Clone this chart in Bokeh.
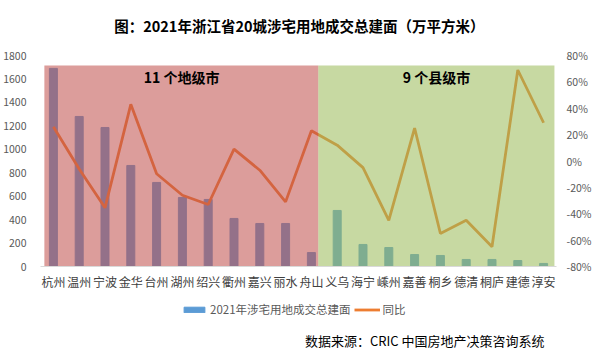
from bokeh.plotting import figure
from bokeh.layouts import column
from bokeh.models import (Range1d, LinearAxis, FixedTicker, NumeralTickFormatter,
                          Label, Legend, LegendItem)
from bokeh.embed import file_html
from bokeh.resources import INLINE

cities = ["杭州", "温州", "宁波", "金华", "台州", "湖州", "绍兴", "衢州", "嘉兴", "丽水", "舟山",
          "义乌", "海宁", "嵊州", "嘉善", "桐乡", "德清", "桐庐", "建德", "淳安"]
area = [1690, 1280, 1186, 862, 717, 589, 572, 410, 367, 367, 119,
        478, 188, 162, 102, 94, 60, 60, 51, 26]
yoy = [0.26, -0.06, -0.355, 0.43, -0.097, -0.26, -0.33, 0.09, -0.07, -0.31, 0.23,
       0.12, -0.05, -0.45, 0.25, -0.55, -0.45, -0.65, 0.69, 0.29]
group_labels = ["11 个地级市", "9 个县级市"]
left_ticks = [0, 200, 400, 600, 800, 1000, 1200, 1400, 1600, 1800]
right_ticks = [-0.8, -0.6, -0.4, -0.2, 0.0, 0.2, 0.4, 0.6, 0.8]
title_text = "图：2021年浙江省20城涉宅用地成交总建面（万平方米）"
source_text = "数据来源：CRIC 中国房地产决策咨询系统"
bar_name = "2021年涉宅用地成交总建面"
line_name = "同比"

FONT = "Noto Sans CJK SC"
BLUE = "#5B9BD5"
ORANGE = "#ED7D31"
idx = list(range(len(cities)))
W = 604


def blank(h):
    f = figure(width=W, height=h, output_backend="svg", toolbar_location=None,
               x_range=Range1d(0, W), y_range=Range1d(0, h),
               x_axis_location=None, y_axis_location=None,
               min_border_left=0, min_border_right=0, min_border_top=0, min_border_bottom=0)
    f.outline_line_color = None
    f.xgrid.visible = False
    f.ygrid.visible = False
    return f


# ---------- title strip ----------
TOP_H = 45
top = blank(TOP_H)
top.add_layout(Label(x=303, y=TOP_H - 25, text=title_text, text_align="center",
                     text_baseline="middle", text_font=FONT, text_font_size="14.5px",
                     text_font_style="bold", text_color="black"))

# ---------- main chart ----------
p = figure(width=W, height=251, output_backend="svg", toolbar_location=None,
           x_range=Range1d(-0.5, len(cities) - 0.5), y_range=Range1d(0, 1800),
           min_border_left=38, min_border_right=48, min_border_top=10, min_border_bottom=30)
p.outline_line_color = None
p.xgrid.visible = False
p.ygrid.visible = False
p.extra_y_ranges = {"pct": Range1d(-0.8, 0.8)}

p.vbar(x=idx, top=area, width=0.31, color=BLUE)
p.line(x=idx, y=yoy, y_range_name="pct", line_color=ORANGE, line_width=2.8)

# translucent group overlays
top_v = 1715
p.quad(left=[-0.35], right=[10.27], bottom=[0], top=[top_v], fill_color="#C0504D",
       fill_alpha=0.56, line_color=None)
p.quad(left=[10.27], right=[19.42], bottom=[0], top=[top_v], fill_color="#9BBB59",
       fill_alpha=0.56, line_color=None)

xa = p.xaxis[0]
xa.ticker = FixedTicker(ticks=idx)
xa.major_label_overrides = {i: c for i, c in enumerate(cities)}
xa.major_tick_line_color = None
xa.minor_tick_line_color = None
xa.axis_line_color = "#D9D9D9"
xa.major_label_text_font = FONT
xa.major_label_text_font_size = "12px"
xa.major_label_text_color = "#404040"
xa.major_label_standoff = 0

ya = p.yaxis[0]
ya.ticker = FixedTicker(ticks=left_ticks)
ya.axis_line_color = None
ya.major_tick_line_color = None
ya.minor_tick_line_color = None
ya.major_label_text_font = FONT
ya.major_label_text_font_size = "10.5px"
ya.major_label_text_color = "#595959"
ya.major_label_standoff = 8

ra = LinearAxis(y_range_name="pct", ticker=FixedTicker(ticks=right_ticks),
                formatter=NumeralTickFormatter(format="0%"))
ra.axis_line_color = None
ra.major_tick_line_color = None
ra.minor_tick_line_color = None
ra.major_label_text_font = FONT
ra.major_label_text_font_size = "10.5px"
ra.major_label_text_color = "#595959"
ra.major_label_standoff = 4
p.add_layout(ra, "right")

p.add_layout(Label(x=4.97, y=1620, text=group_labels[0], text_align="center",
                   text_baseline="middle", text_font=FONT, text_font_size="14px",
                   text_font_style="bold", text_color="black"))
p.add_layout(Label(x=14.85, y=1620, text=group_labels[1], text_align="center",
                   text_baseline="middle", text_font=FONT, text_font_size="14px",
                   text_font_style="bold", text_color="black"))

# ---------- legend + source strip ----------
BOT_H = 353 - TOP_H - 251
bot = blank(BOT_H)
# hidden copies of the two series, used only as legend swatches
rb = bot.vbar(x=idx, top=area, width=0.31, color=BLUE, visible=False)
rl = bot.line(x=idx, y=yoy, line_color=ORANGE, line_width=2.8, visible=False)
legend = Legend(items=[LegendItem(label=bar_name, renderers=[rb]),
                       LegendItem(label=line_name, renderers=[rl])],
                orientation="horizontal", location=(141, BOT_H - 13 - 8),
                glyph_width=26, glyph_height=7, label_text_font=FONT,
                label_text_font_size="11.5px", label_text_color="#595959",
                label_standoff=3, spacing=3, padding=0, margin=0,
                inactive_fill_alpha=0, inactive_fill_color=None,
                background_fill_alpha=0, border_line_color=None, label_height=14)
bot.add_layout(legend)
bot.add_layout(Label(x=590, y=BOT_H - 44, text=source_text, text_align="right",
                     text_baseline="middle", text_font=FONT, text_font_size="13px",
                     text_color="black"))

layout = column(top, p, bot, spacing=0)
open("out.html", "w").write(file_html(layout, INLINE))
